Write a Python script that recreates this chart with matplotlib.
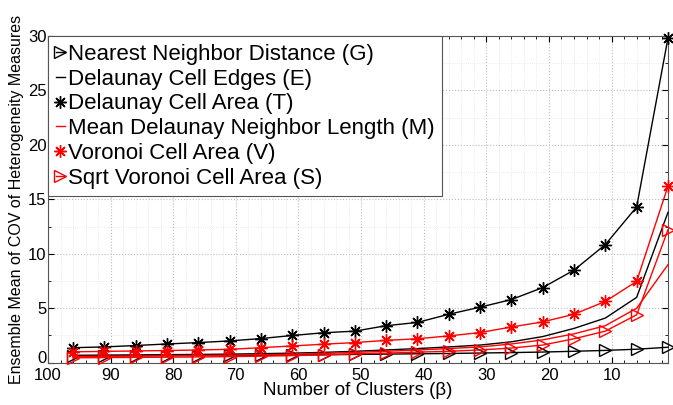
import numpy as np
import matplotlib
matplotlib.use('Agg')
import matplotlib.pyplot as plt
from matplotlib.ticker import MultipleLocator
from matplotlib.transforms import ScaledTranslation

plt.rcParams['font.family'] = ['Liberation Sans', 'DejaVu Sans']

# number of clusters (beta), plotted on a reversed axis
clusters = [96, 91, 86, 81, 76, 71, 66, 61, 56, 51, 46, 41, 36, 31, 26, 21, 16, 11, 6, 1]

# ensemble mean of COV for each heterogeneity measure
nn_dist = [0.62, 0.63, 0.64, 0.65, 0.66, 0.67, 0.69, 0.71, 0.73, 0.76,
           0.79, 0.82, 0.85, 0.89, 0.93, 0.98, 1.05, 1.13, 1.24, 1.42]
del_edges = [0.68, 0.70, 0.72, 0.74, 0.76, 0.79, 0.83, 0.88, 0.95, 1.05,
             1.17, 1.30, 1.45, 1.62, 1.92, 2.40, 3.15, 4.10, 6.00, 13.8]
del_area = [1.38, 1.45, 1.58, 1.72, 1.85, 2.00, 2.22, 2.50, 2.75, 2.90,
            3.40, 3.70, 4.45, 5.10, 5.80, 6.90, 8.50, 10.85, 14.3, 29.8]
mean_nbr = [0.58, 0.60, 0.62, 0.64, 0.66, 0.69, 0.73, 0.78, 0.85, 0.95,
            1.05, 1.17, 1.30, 1.45, 1.72, 2.10, 2.65, 3.40, 5.00, 9.00]
vor_area = [1.00, 1.04, 1.08, 1.12, 1.17, 1.23, 1.38, 1.54, 1.70, 1.85,
            2.05, 2.20, 2.46, 2.77, 3.28, 3.75, 4.45, 5.63, 7.47, 16.2]
sqrt_vor = [0.45, 0.47, 0.49, 0.51, 0.53, 0.56, 0.60, 0.65, 0.72, 0.82,
            0.88, 0.97, 1.05, 1.17, 1.35, 1.62, 2.20, 2.90, 4.40, 12.2]

labels = ['Nearest Neighbor Distance (G)',
          'Delaunay Cell Edges (E)',
          'Delaunay Cell Area (T)',
          'Mean Delaunay Neighbor Length (M)',
          'Voronoi Cell Area (V)',
          'Sqrt Voronoi Cell Area (S)']

fig = plt.figure(figsize=(6.73, 4.05), dpi=100)
ax = fig.add_axes([0.0713, 0.1044, 0.9212, 0.8067])

star = (8, 2, 0)
kw = dict(lw=1.0, clip_on=False, zorder=3)
ax.plot(clusters, nn_dist, color='k', marker='>', ms=9, mfc='none', mew=1.0, label=labels[0], **kw)
ax.plot(clusters, del_edges, color='k', label=labels[1], **kw)
ax.plot(clusters, del_area, color='k', marker=star, ms=9, mew=1.0, label=labels[2], **kw)
ax.plot(clusters, mean_nbr, color='#ff0000', label=labels[3], **kw)
ax.plot(clusters, vor_area, color='#ff0000', marker=star, ms=9, mew=1.0, label=labels[4], **kw)
ax.plot(clusters, sqrt_vor, color='#ff0000', marker='>', ms=9, mfc='none', mew=1.0, label=labels[5], **kw)

ax.set_xlim(100, 1)
ax.set_ylim(0, 30)
ax.xaxis.set_major_locator(MultipleLocator(10))
ax.xaxis.set_minor_locator(MultipleLocator(2))
ax.set_yticks([0, 5, 10, 15, 20, 25, 30])
ax.yaxis.set_minor_locator(MultipleLocator(2.5))
ax.tick_params(which='both', direction='in', top=True, right=True, labelsize=12)
ax.tick_params(which='major', length=4)
ax.tick_params(which='minor', length=2)
ax.tick_params(axis='y', pad=1)
ax.tick_params(axis='x', pad=4)
ax.grid(which='major', color='#bdbdbd', ls=':', lw=0.8)
ax.grid(which='minor', color='#e3e3e3', ls=':', lw=0.6)
ax.set_axisbelow(True)
for s in ax.spines.values():
    s.set_color('#555555')
    s.set_linewidth(0.8)

ax.set_xlabel('Number of Clusters (β)', fontsize=13.5, labelpad=-1)
ax.set_ylabel('Ensemble Mean of COV of Heterogeneity Measures', fontsize=11.5, labelpad=3)

leg = ax.legend(loc='upper left', borderaxespad=0, fontsize=16, handlelength=0.4,
                handletextpad=0.15, labelspacing=0.17, borderpad=0.35, fancybox=False,
                framealpha=1, edgecolor='#555555')
leg.get_frame().set_linewidth(0.8)

# nudge the "0" label up so it clears the "100" below it
fig.canvas.draw()
for t in ax.yaxis.get_major_ticks():
    if t.get_loc() == 0:
        lab = t.label1
        lab.set_transform(lab.get_transform() + ScaledTranslation(0, 4 / 72, fig.dpi_scale_trans))

fig.savefig('out.png', dpi=100)
